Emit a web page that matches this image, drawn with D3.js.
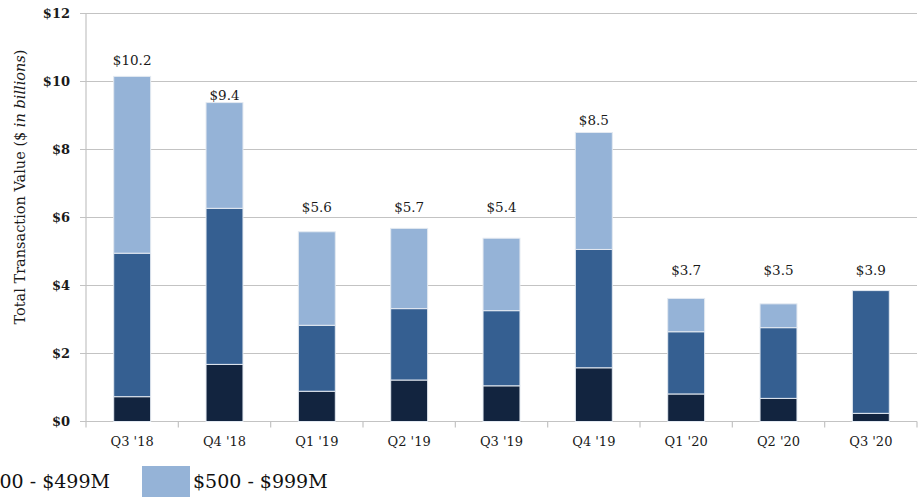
<!DOCTYPE html>
<html>
<head>
<meta charset="utf-8">
<script src="https://cdn.jsdelivr.net/npm/d3@7"></script>
<style>
  body { margin: 0; background: #fff; }
  svg { display: block; font-family: "DejaVu Serif", serif; }
</style>
</head>
<body>
<div id="chart"></div>
<script>
// dados (em bilhões de dólares)
const quarters = ["Q3 '18", "Q4 '18", "Q1 '19", "Q2 '19", "Q3 '19", "Q4 '19", "Q1 '20", "Q2 '20", "Q3 '20"];
const seriesNames = ["< $100M", "$100 - $499M", "$500 - $999M"];
const small  = [0.73, 1.68, 0.89, 1.22, 1.05, 1.58, 0.81, 0.68, 0.24];
const middle = [4.22, 4.59, 1.94, 2.10, 2.21, 3.48, 1.83, 2.08, 3.61];
const large  = [5.20, 3.11, 2.75, 2.36, 2.13, 3.44, 0.98, 0.70, 0.00];
const totalLabels = ["$10.2", "$9.4", "$5.6", "$5.7", "$5.4", "$8.5", "$3.7", "$3.5", "$3.9"];
// altura (em $ bi) onde o rótulo de total foi posicionado no original
const labelAt = [10.5, 9.46, 6.16, 6.16, 6.16, 8.72, 4.31, 4.31, 4.31];
const yTicks = [0, 2, 4, 6, 8, 10, 12];

const colors = ["#12243f", "#355f91", "#95b3d7"];

const W = 921, H = 497;
const margin = {top: 13.5, left: 86, right: 4, bottom: 75.5};

const svg = d3.select("#chart").append("svg")
    .attr("width", W)
    .attr("height", H);

const x = d3.scaleBand()
    .domain(quarters)
    .range([margin.left, W - margin.right])
    .paddingInner(0.6)
    .paddingOuter(0.3);

const y = d3.scaleLinear()
    .domain([0, 12])
    .range([H - margin.bottom, margin.top]);

// grade horizontal
svg.append("g")
    .selectAll("line")
    .data(yTicks)
    .enter().append("line")
        .attr("x1", margin.left - 6)
        .attr("x2", W - margin.right)
        .attr("y1", d => y(d))
        .attr("y2", d => y(d))
        .style("stroke", "#c3c3c3")
        .style("stroke-width", 1.2);

// eixo vertical
svg.append("line")
    .attr("x1", margin.left).attr("x2", margin.left)
    .attr("y1", y(12)).attr("y2", y(0))
    .style("stroke", "#c3c3c3")
    .style("stroke-width", 1.2);

// rótulos do eixo y
svg.append("g")
    .selectAll("text")
    .data(yTicks)
    .enter().append("text")
        .attr("x", margin.left - 16)
        .attr("y", d => y(d))
        .attr("dy", "0.35em")
        .style("text-anchor", "end")
        .style("font-size", "13px")
        .attr("font-weight", "bold")
        .style("fill", "#1a1a1a")
        .text(d => "$" + d);

// marcas do eixo x nas divisões das categorias
const xEdges = d3.range(quarters.length + 1).map(i => margin.left + i * (W - margin.right - margin.left) / quarters.length);
svg.append("g")
    .selectAll("line")
    .data(xEdges)
    .enter().append("line")
        .attr("x1", d => d).attr("x2", d => d)
        .attr("y1", y(0)).attr("y2", y(0) + 6)
        .style("stroke", "#c3c3c3")
        .style("stroke-width", 1.2);

// barras empilhadas
const rows = quarters.map((q, i) => ({q: q, s0: small[i], s1: middle[i], s2: large[i]}));
const stack = d3.stack().keys(["s0", "s1", "s2"]);
const layers = stack(rows);

svg.append("g")
    .selectAll("g")
    .data(layers)
    .enter().append("g")
        .attr("fill", (d, i) => colors[i])
    .selectAll("rect")
    .data(d => d.filter(p => p[1] - p[0] > 0))
    .enter().append("rect")
        .attr("x", d => x(d.data.q))
        .attr("y", d => y(d[1]))
        .attr("width", x.bandwidth())
        .attr("height", d => y(d[0]) - y(d[1]))
        .style("stroke", "#e3e9f1")
        .style("stroke-width", 1);

// rótulos de categoria
svg.append("g")
    .selectAll("text")
    .data(quarters)
    .enter().append("text")
        .attr("x", d => x(d) + x.bandwidth() / 2)
        .attr("y", y(0) + 24)
        .style("text-anchor", "middle")
        .style("font-size", "13px")
        .style("fill", "#1a1a1a")
        .text(d => d);

// rótulos de total
svg.append("g")
    .selectAll("text")
    .data(quarters)
    .enter().append("text")
        .attr("x", d => x(d) + x.bandwidth() / 2)
        .attr("y", (d, i) => y(labelAt[i]))
        .style("text-anchor", "middle")
        .style("font-size", "13.5px")
        .style("fill", "#1a1a1a")
        .text((d, i) => totalLabels[i]);

// título do eixo y
const yTitle = svg.append("text")
    .attr("transform", "translate(25," + 187 + ") rotate(-90)")
    .style("text-anchor", "middle")
    .style("font-size", "14.5px")
    .style("fill", "#1a1a1a");
yTitle.append("tspan").text("Total Transaction Value ($ ");
yTitle.append("tspan").style("font-style", "italic").text("in billions");
yTitle.append("tspan").text(")");

// legenda (cortada à esquerda como no original)
const legend = svg.append("g");
let cursor = 0;
let lastSquare = 0;
seriesNames.forEach((name, i) => {
    legend.append("rect")
        .attr("x", cursor)
        .attr("y", 466)
        .attr("width", 48)
        .attr("height", 34)
        .attr("fill", colors[i]);
    lastSquare = cursor;
    const t = legend.append("text")
        .attr("x", cursor + 51)
        .attr("y", 488)
        .style("font-size", "19px")
        .style("fill", "#111")
        .text(name);
    cursor += 51 + t.node().getComputedTextLength() + 32;
});
legend.attr("transform", "translate(" + (142 - lastSquare) + ",0)");
</script>
</body>
</html>
